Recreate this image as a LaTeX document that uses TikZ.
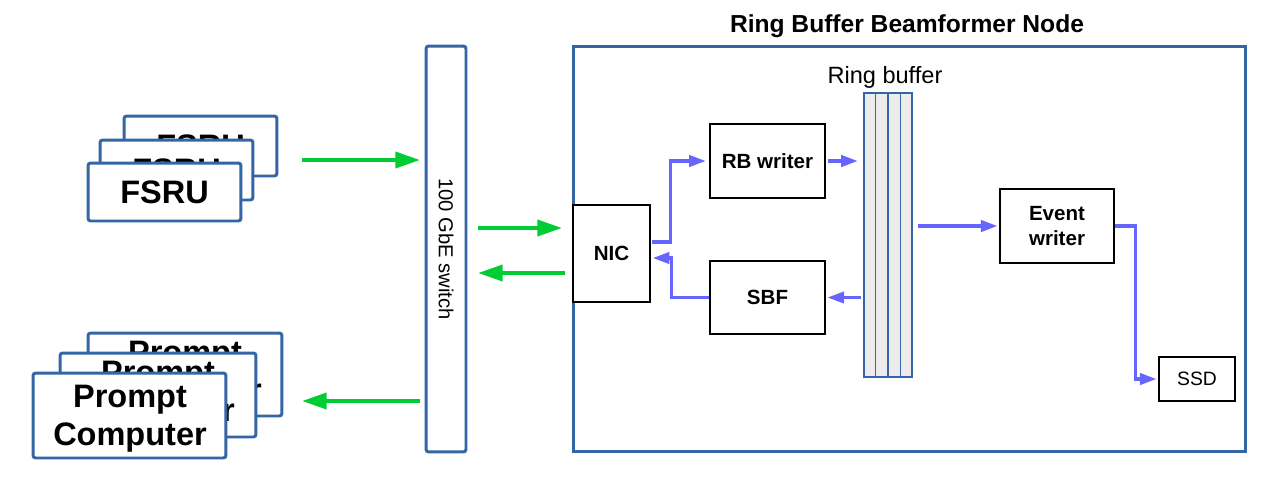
\documentclass[tikz,border=0pt]{standalone}
\usepackage{fontspec}
\setmainfont{Liberation Sans}
\usetikzlibrary{arrows.meta,calc}
\definecolor{boxblue}{RGB}{52,101,164}
\definecolor{agreen}{RGB}{0,204,51}
\definecolor{aviolet}{RGB}{102,102,255}
\definecolor{rbfill}{RGB}{236,236,236}
\begin{document}
\begin{tikzpicture}[x=0.02cm,y=-0.02cm,
  bluebox/.style={draw=boxblue, line width=1.7pt, fill=white, rounded corners=1.5pt, inner sep=0pt, align=center},
  bigtext/.style={font=\fontsize{18.5}{21.5}\selectfont\bfseries},
  blackbox/.style={draw=black, line width=0.9pt, fill=white, inner sep=0pt, align=center, font=\fontsize{11.7}{14}\selectfont\bfseries},
  garrow/.style={draw=agreen, line width=2.3pt, -{Triangle[length=14pt,width=9pt]}},
  barrow/.style={draw=aviolet, line width=1.8pt, -{Triangle[length=9.5pt,width=6.5pt]}}]
\useasboundingbox (0,0) rectangle (1284,495);

% Ring buffer beamformer node frame
\node[draw=boxblue, line width=1.7pt, minimum width=13.46cm, minimum height=8.12cm, inner sep=0pt] (rbb) at (909.5,249) {};
\node[font=\fontsize{14}{16}\selectfont\bfseries] (title) at (907,26) {Ring Buffer Beamformer Node};

% switch
\node[bluebox, minimum width=0.8cm, minimum height=8.12cm] (sw) at (446,249) {};
\node[rotate=-90, font=\fontsize{11.5}{13}\selectfont] (swlabel) at (446,249) {100 GbE switch};

% FSRU stack
\node[bluebox, bigtext, minimum width=3.06cm, minimum height=1.2cm] (fsru1) at (200.5,146) {FSRU};
\node[bluebox, bigtext, minimum width=3.06cm, minimum height=1.2cm] (fsru2) at (176.5,170) {FSRU};
\node[bluebox, bigtext, minimum width=3.06cm, minimum height=1.16cm] (fsru3) at (164.5,192) {FSRU};

% Prompt computer stack
\node[bluebox, bigtext, minimum width=3.88cm, minimum height=1.66cm] (pc1) at (185,374.5) {Prompt\\Computer};
\node[bluebox, bigtext, minimum width=3.92cm, minimum height=1.68cm] (pc2) at (158,395) {Prompt\\Computer};
\node[bluebox, minimum width=3.86cm, minimum height=1.70cm] (pc3) at (129.5,415.5) {};
\node[bigtext, align=center] (pc3text) at (130,419) {Prompt\\Computer};

% inner blocks
\node[blackbox, minimum width=1.54cm, minimum height=1.94cm] (nic) at (611.5,253.5) {NIC};
\node[blackbox, minimum width=2.3cm, minimum height=1.48cm] (rbw) at (767.5,161) {RB writer};
\node[blackbox, minimum width=2.3cm, minimum height=1.46cm] (sbf) at (767.5,297.5) {SBF};
\node[blackbox, minimum width=2.28cm, minimum height=1.48cm] (ew) at (1057,226) {Event\\writer};
\node[blackbox, minimum width=1.52cm, minimum height=0.88cm, font=\fontsize{11}{13}\selectfont] (ssd) at (1197,379) {SSD};

% ring buffer
\node[draw=boxblue, fill=rbfill, line width=1.1pt, minimum width=0.96cm, minimum height=5.68cm, inner sep=0pt] (rb) at (888,235) {};
\foreach \f in {0.25,0.5,0.75}
  \draw[boxblue, line width=1.1pt] ($(rb.north west)!\f!(rb.north east)$) -- ($(rb.south west)!\f!(rb.south east)$);
\node[font=\fontsize{13.4}{15}\selectfont] (rblabel) at (885,77) {Ring buffer};

% green arrows
\coordinate (g1s) at (302,160); \coordinate (g1e) at (420,160);
\coordinate (g2s) at (478,228); \coordinate (g2e) at (562,228);
\coordinate (g3s) at (565,273); \coordinate (g3e) at (478,273);
\coordinate (g4s) at (420,401); \coordinate (g4e) at (302,401);
\draw[garrow] (g1s) -- (g1e);
\draw[garrow] (g2s) -- (g2e);
\draw[garrow] (g3s) -- (g3e);
\draw[garrow] (g4s) -- (g4e);

% blue arrows
\draw[barrow] ($(nic.east)+(1,-11.5)$) -- ++(19,0) |- ([xshift=-2pt]rbw.west);
\draw[barrow, shorten <=1pt, shorten >=3pt] (rbw.east) -- (rbw.east -| rb.west);
\draw[barrow, shorten <=1pt, shorten >=1pt] (sbf.east -| rb.west) -- (sbf.east);
\draw[barrow] (sbf.west) -- ++(-38,0) |- ($(nic.east)+(2,4.5)$);
\draw[barrow, shorten <=3pt, shorten >=1pt] (rb.east |- ew.west) -- (ew.west);
\draw[barrow, shorten >=1pt] (ew.east) -- ++(21,0) |- (ssd.west);
\end{tikzpicture}
\end{document}
